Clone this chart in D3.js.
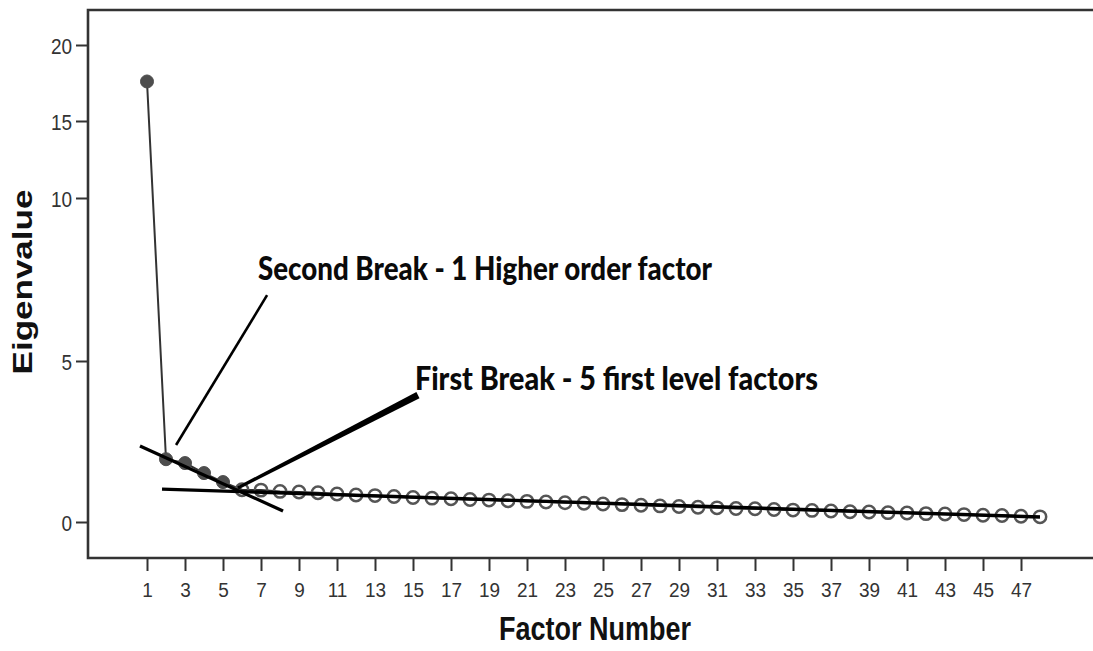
<!DOCTYPE html>
<html>
<head>
<meta charset="utf-8">
<script src="https://cdn.jsdelivr.net/npm/d3@7"></script>
<style>
  html, body { margin: 0; padding: 0; background: #fff; }
  svg { display: block; }
</style>
</head>
<body>
<svg id="chart" width="1093" height="651"></svg>
<script>
// Scree plot: eigenvalue of each extracted factor (factor number = index + 1)
const eigenvalues = [
  17.6, 1.95, 1.83, 1.52, 1.24, 1.00,
  0.99, 0.95, 0.93, 0.91, 0.87, 0.84, 0.82, 0.79, 0.76, 0.74,
  0.72, 0.70, 0.68, 0.66, 0.64, 0.62, 0.60, 0.58, 0.56, 0.54,
  0.52, 0.50, 0.48, 0.46, 0.44, 0.42, 0.41, 0.39, 0.37, 0.36,
  0.34, 0.32, 0.31, 0.29, 0.28, 0.26, 0.25, 0.23, 0.21, 0.20,
  0.18, 0.16
];
const highlightedFactors = 5;            // first factors drawn as solid markers
const xTickValues = [1, 3, 5, 7, 9, 11, 13, 15, 17, 19, 21, 23, 25, 27, 29, 31, 33, 35, 37, 39, 41, 43, 45, 47];
const yTickValues = [0, 5, 10, 15, 20];
const xTitle = "Factor Number";
const yTitle = "Eigenvalue";

// Hand-drawn break annotations, in (factor, eigenvalue) units
const secondBreakLabel = "Second Break - 1 Higher order factor";
const secondBreakAnchor = [6.84, 7.48];
const secondBreakPointer = [[7.32, 7.02], [2.53, 2.39]];
const firstBreakLabel = "First Break - 5 first level factors";
const firstBreakAnchor = [15.1, 4.1];
const firstBreakPointer = [[15.26, 3.94], [5.79, 1.06]];
const steepSlopeLine = [[0.63, 2.36], [8.16, 0.34]];
const flatSlopeLine = [[1.79, 1.02], [48.0, 0.155]];

const svg = d3.select("#chart");
const frame = { left: 88, top: 10, bottom: 558, right: 1095 };

const x = d3.scaleLinear().domain([1, 48]).range([147, 1040]);
// y axis is drawn with a compressed upper section
const y = d3.scaleLinear().domain([0, 5, 10, 15, 20]).range([522, 361, 198, 121, 45]);

const points = eigenvalues.map((v, i) => ({ factor: i + 1, value: v }));

// Plot frame
svg.append("path")
  .attr("d", `M${frame.right},${frame.top}H${frame.left}V${frame.bottom}H${frame.right}`)
  .attr("fill", "none")
  .attr("stroke", "#333")
  .attr("stroke-width", 2.6);

// Y axis ticks and labels
const yAxis = svg.append("g").attr("transform", `translate(${frame.left},0)`)
  .call(d3.axisLeft(y).tickValues(yTickValues).tickSize(12).tickPadding(4).tickFormat(d3.format("d")));
yAxis.select(".domain").remove();
yAxis.selectAll(".tick line").attr("stroke", "#333").attr("stroke-width", 2);
yAxis.selectAll(".tick text")
  .attr("fill", "#333")
  .attr("font-family", "'Liberation Sans', Arial, sans-serif")
  .attr("font-size", 19)
  .attr("dy", null)
  .attr("transform", "scale(1,1.2)")
  .attr("y", 0)
  .attr("dominant-baseline", "central");

// X axis ticks and labels
const xAxis = svg.append("g").attr("transform", `translate(0,${frame.bottom})`)
  .call(d3.axisBottom(x).tickValues(xTickValues).tickSize(13).tickPadding(9).tickFormat(d3.format("d")));
xAxis.select(".domain").remove();
xAxis.selectAll(".tick line").attr("stroke", "#333").attr("stroke-width", 2);
xAxis.selectAll(".tick text")
  .attr("fill", "#333")
  .attr("font-family", "'Liberation Sans', Arial, sans-serif")
  .attr("font-size", 19)
  .attr("transform", "scale(1,1.1)");

// Axis titles
svg.append("text")
  .attr("transform", `translate(595,640) scale(1,1.2)`)
  .attr("text-anchor", "middle")
  .attr("font-family", "'Liberation Sans', Arial, sans-serif")
  .attr("font-weight", "bold")
  .attr("font-size", 27)
  .attr("fill", "#111")
  .text(xTitle);

svg.append("text")
  .attr("transform", `translate(32,282) rotate(-90) scale(1.25,1)`)
  .attr("text-anchor", "middle")
  .attr("font-family", "'Liberation Sans', Arial, sans-serif")
  .attr("font-weight", "bold")
  .attr("font-size", 28)
  .attr("fill", "#111")
  .text(yTitle);

// Scree line through every factor
svg.append("path")
  .datum(points)
  .attr("fill", "none")
  .attr("stroke", "#333")
  .attr("stroke-width", 2)
  .attr("d", d3.line().x(d => x(d.factor)).y(d => y(d.value)));

// Markers: solid for the leading factors, hollow for the rest
svg.append("g").selectAll("circle")
  .data(points)
  .join("circle")
  .attr("cx", d => x(d.factor))
  .attr("cy", d => y(d.value))
  .attr("r", d => d.factor <= highlightedFactors ? 6.5 : 6.2)
  .attr("fill", d => d.factor <= highlightedFactors ? "#4d4d4d" : "none")
  .attr("stroke", d => d.factor <= highlightedFactors ? "#4d4d4d" : "#555")
  .attr("stroke-width", d => d.factor <= highlightedFactors ? 1 : 2.5);

// Break annotation lines
const seg = d3.line().x(d => x(d[0])).y(d => y(d[1]));
svg.append("path").datum(steepSlopeLine).attr("d", seg)
  .attr("stroke", "#000").attr("stroke-width", 3.2).attr("fill", "none");
svg.append("path").datum(flatSlopeLine).attr("d", seg)
  .attr("stroke", "#000").attr("stroke-width", 3.4).attr("fill", "none");
svg.append("path").datum(secondBreakPointer).attr("d", seg)
  .attr("stroke", "#000").attr("stroke-width", 2.6).attr("fill", "none");

// First-break pointer tapers toward its tip
(function () {
  const [a, b] = firstBreakPointer.map(p => [x(p[0]), y(p[1])]);
  const dx = b[0] - a[0], dy = b[1] - a[1];
  const len = Math.hypot(dx, dy);
  const nx = -dy / len, ny = dx / len;
  const w0 = 3.4, w1 = 1.6;
  const poly = [
    [a[0] + nx * w0, a[1] + ny * w0],
    [b[0] + nx * w1, b[1] + ny * w1],
    [b[0] - nx * w1, b[1] - ny * w1],
    [a[0] - nx * w0, a[1] - ny * w0]
  ];
  svg.append("path")
    .attr("d", "M" + poly.map(p => p.join(",")).join("L") + "Z")
    .attr("fill", "#000");
})();

// Break labels
function note(label, anchor, width) {
  svg.append("text")
    .attr("transform", `translate(${x(anchor[0])},${y(anchor[1])}) scale(1,1.22)`)
    .attr("font-family", "Lato, 'Open Sans', sans-serif")
    .attr("font-weight", "900")
    .attr("font-size", 27)
    .attr("fill", "#0a0a0a")
    .attr("textLength", width)
    .attr("lengthAdjust", "spacingAndGlyphs")
    .text(label);
}
note(secondBreakLabel, secondBreakAnchor, 454);
note(firstBreakLabel, firstBreakAnchor, 403);
</script>
</body>
</html>
